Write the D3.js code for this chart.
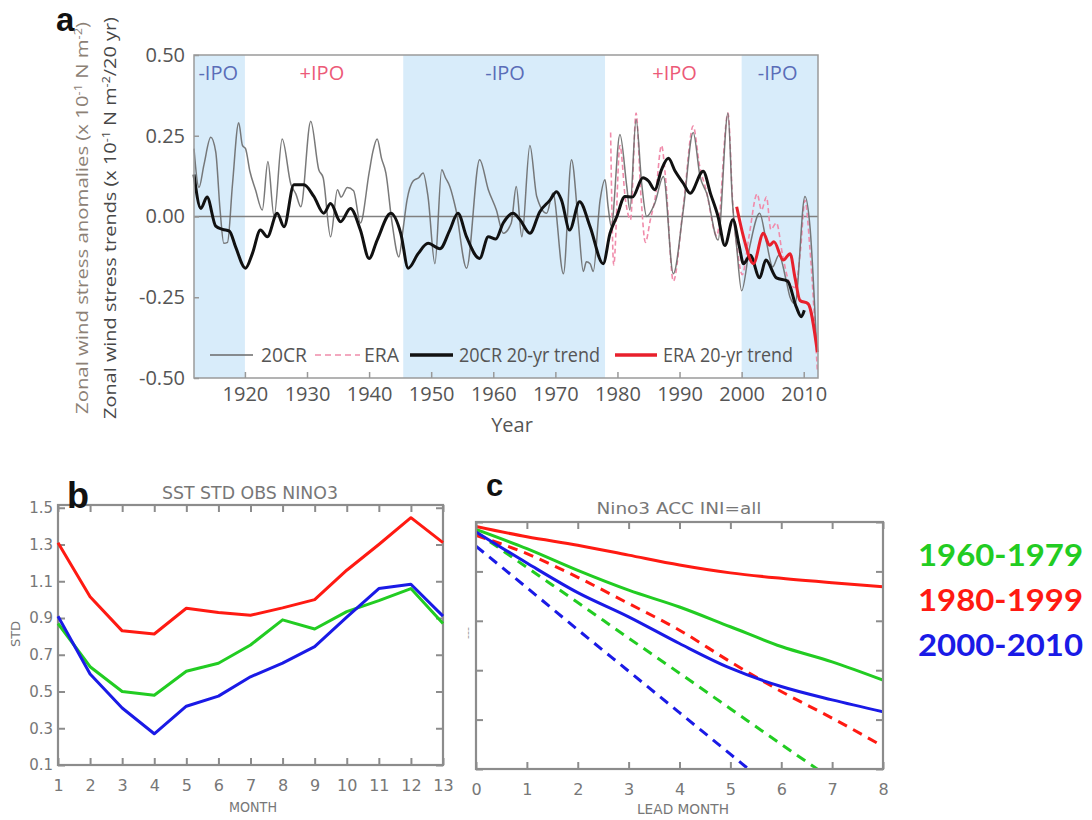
<!DOCTYPE html>
<html>
<head>
  <title>Zonal wind stress and Nino3 SST</title>
  <script src="https://d3js.org/d3.v7.min.js"></script>
  <style>
    body { margin: 0; background: #fff; }
  </style>
</head>
<body>
  <script>
    // ---- panel a data : [year, value] ----
    var cr20 = [[1911.8,0.21],[1912.6,0.09],[1913.4,0.16],[1914.5,0.245],[1915.3,0.20],[1916.0,0.02],[1916.6,-0.083],[1917.2,-0.08],[1918.0,0.10],[1919.0,0.29],[1919.6,0.22],[1920.1,0.21],[1920.8,0.14],[1921.7,0.083],[1922.8,0.02],[1923.7,0.17],[1924.7,0.0],[1926.0,0.24],[1927.4,0.10],[1928.2,0.07],[1929.0,0.03],[1930.6,0.295],[1931.9,0.145],[1932.6,0.12],[1933.8,-0.063],[1934.9,0.083],[1935.5,0.06],[1936.5,0.09],[1937.5,0.08],[1938.6,-0.02],[1940.0,0.135],[1940.6,0.2],[1941.3,0.24],[1942.0,0.18],[1942.7,0.135],[1943.7,-0.02],[1944.8,-0.125],[1945.4,-0.05],[1946.1,0.05],[1947.1,0.11],[1948.0,0.12],[1948.7,0.135],[1949.5,0.06],[1950.6,-0.146],[1951.7,0.145],[1952.3,0.12],[1953.0,0.093],[1954.0,0.02],[1955.7,-0.16],[1957.8,0.176],[1959.2,0.083],[1960.5,0.02],[1961.6,-0.052],[1962.9,-0.02],[1963.7,0.093],[1964.6,-0.063],[1965.9,0.22],[1967.0,0.062],[1968.6,0.01],[1969.6,0.073],[1971.3,-0.177],[1972.6,0.176],[1973.7,-0.02],[1974.5,-0.17],[1975.0,-0.14],[1975.6,-0.146],[1976.1,-0.17],[1977.2,0.05],[1978.0,0.114],[1978.5,0.03],[1979.0,-0.03],[1980.4,0.254],[1981.5,0.093],[1982.0,0.02],[1983.0,0.30],[1983.9,0.103],[1984.7,0.0],[1986.0,0.04],[1987.4,0.124],[1989.0,-0.177],[1990.6,0.02],[1992.2,0.26],[1993.3,0.124],[1994.4,0.07],[1996.2,-0.073],[1997.8,0.32],[1998.5,0.05],[1999.2,-0.094],[2000.0,-0.23],[2001.3,-0.094],[2002.9,0.01],[2004.0,-0.08],[2005.0,-0.156],[2006.0,-0.12],[2007.2,-0.2],[2007.8,-0.25],[2008.6,-0.27],[2010.2,0.062],[2011.0,-0.03],[2012.1,-0.416]];
    var era = [[1978.9,0.26],[1979.4,-0.15],[1980.4,0.22],[1981.3,0.05],[1982.1,-0.01],[1983.0,0.32],[1983.8,0.06],[1984.5,-0.08],[1985.3,-0.01],[1986.1,0.06],[1987.1,0.22],[1987.7,0.13],[1989.0,-0.20],[1990.6,0.03],[1992.2,0.28],[1993.2,0.16],[1994.3,0.08],[1996.0,-0.06],[1997.8,0.32],[1998.6,0.03],[1999.3,-0.10],[2000.1,-0.18],[2001.2,-0.06],[2002.5,0.07],[2003.2,0.02],[2004.0,0.06],[2004.7,-0.04],[2005.6,-0.02],[2006.6,-0.12],[2007.6,-0.20],[2008.6,-0.22],[2009.5,-0.10],[2010.2,0.05],[2011.0,-0.10],[2012.2,-0.48]];
    var trend20cr = [[1911.8,0.13],[1912.9,0.025],[1913.9,0.06],[1915.3,-0.03],[1916.4,-0.04],[1917.5,-0.045],[1918.5,-0.094],[1920.1,-0.16],[1921.2,-0.115],[1922.5,-0.042],[1923.6,-0.063],[1925.2,0.01],[1926.3,-0.032],[1927.9,0.098],[1929.5,0.098],[1931.1,0.062],[1932.7,0.01],[1933.8,0.04],[1935.4,-0.016],[1937.0,0.025],[1938.6,-0.042],[1940.0,-0.13],[1941.3,-0.073],[1943.5,0.01],[1945.1,-0.052],[1946.3,-0.16],[1947.9,-0.115],[1949.5,-0.083],[1951.4,-0.1],[1953.0,-0.042],[1954.3,0.01],[1955.7,-0.063],[1957.8,-0.13],[1959.2,-0.063],[1960.4,-0.07],[1961.6,-0.02],[1963.2,0.01],[1964.3,-0.01],[1965.9,-0.052],[1967.5,0.015],[1969.1,0.05],[1970.2,0.077],[1971.0,0.05],[1972.3,-0.042],[1973.9,0.046],[1975.6,-0.032],[1977.7,-0.146],[1978.8,-0.052],[1979.9,0.0],[1981.2,0.062],[1982.4,0.06],[1984.1,0.12],[1985.0,0.11],[1986.0,0.083],[1987.1,0.145],[1988.2,0.18],[1989.3,0.14],[1990.6,0.103],[1991.7,0.072],[1993.8,0.14],[1995.0,0.07],[1996.2,0.0],[1997.3,-0.09],[1998.6,-0.01],[1999.6,-0.09],[2000.3,-0.146],[2001.4,-0.12],[2002.9,-0.19],[2003.9,-0.135],[2005.6,-0.19],[2007.4,-0.2],[2008.8,-0.28],[2009.6,-0.31],[2010.1,-0.29]];
    var trendEra = [[1999.2,0.03],[2000.3,-0.063],[2001.9,-0.146],[2003.5,-0.052],[2004.5,-0.089],[2005.2,-0.078],[2006.7,-0.135],[2007.8,-0.115],[2008.6,-0.19],[2009.4,-0.26],[2010.7,-0.27],[2012.2,-0.42]];

    // IPO phases
    var negIPO = [[1911.8,1920],[1945.5,1978],[2000,2012.3]];
    var ipoLabels = [[1915.7,'-IPO'],[1932.4,'+IPO'],[1961.9,'-IPO'],[1989.2,'+IPO'],[2005.8,'-IPO']];
    var yearTicks = [1920,1930,1940,1950,1960,1970,1980,1990,2000,2010];
    var stressTicks = [-0.5,-0.25,0,0.25,0.5];

    // ---- panel b data : month 1..13 ----
    var months = [1,2,3,4,5,6,7,8,9,10,11,12,13];
    var std6079 = [0.87,0.635,0.50,0.48,0.61,0.654,0.753,0.89,0.84,0.935,0.995,1.06,0.87];
    var std8099 = [1.31,1.016,0.83,0.813,0.953,0.93,0.915,0.955,1.0,1.16,1.30,1.446,1.31];
    var std0010 = [0.91,0.595,0.41,0.27,0.42,0.475,0.58,0.654,0.744,0.905,1.06,1.084,0.91];
    var stdTicks = [0.1,0.3,0.5,0.7,0.9,1.1,1.3,1.5];

    // ---- panel c data : lead month 0..8 ----
    var leads = [0,1,2,3,4,5,6,7,8];
    var acc6079 = [0.985,0.946,0.902,0.862,0.828,0.788,0.748,0.717,0.68];
    var acc8099 = [0.991,0.970,0.953,0.933,0.913,0.897,0.886,0.877,0.869];
    var acc0010 = [0.98,0.917,0.857,0.808,0.754,0.704,0.667,0.64,0.616];
    var pers6079 = [0.98,0.908,0.837,0.765,0.694,0.622,0.55,0.479,0.407];
    var pers8099 = [0.973,0.936,0.888,0.835,0.781,0.717,0.657,0.603,0.546];
    var pers0010 = [0.951,0.867,0.782,0.698,0.614,0.53,0.445,0.36,0.277];
    var accTicks = [0.5,0.6,0.7,0.8,0.9,1.0];

    var periods = ['1960-1979','1980-1999','2000-2010'];
    var periodColors = ['#22cc22','#ff1a12','#1a1ae6'];

    var width = 1092, height = 820;
    var svg = d3.select('body').append('svg')
        .attr('width', width).attr('height', height)
        .style('font-family', '"Open Sans", sans-serif');

    // ================= panel a =================
    var xA = d3.scaleLinear().domain([1911.8, 2012.3]).range([194, 818]);
    var yA = d3.scaleLinear().domain([-0.5, 0.5]).range([378, 55]);
    var a = svg.append('g');

    a.selectAll('rect.ipo').data(negIPO).enter().append('rect')
        .attr('x', d => xA(d[0])).attr('width', d => xA(d[1]) - xA(d[0]))
        .attr('y', yA(0.5)).attr('height', yA(-0.5) - yA(0.5))
        .attr('fill', '#d8ecfa');

    a.selectAll('text.ipo').data(ipoLabels).enter().append('text')
        .attr('x', d => xA(d[0])).attr('y', 80)
        .attr('text-anchor', 'middle').attr('font-size', 20)
        .attr('fill', d => d[1][0] == '-' ? '#5a6db8' : '#ec5a78')
        .text(d => d[1]);

    a.append('line').attr('x1', xA.range()[0]).attr('x2', xA.range()[1])
        .attr('y1', yA(0)).attr('y2', yA(0))
        .attr('stroke', '#808080').attr('stroke-width', 1.5);

    var lineA = d3.line().x(d => xA(d[0])).y(d => yA(d[1])).curve(d3.curveMonotoneX);

    a.append('path').datum(era).attr('d', lineA).attr('fill', 'none')
        .attr('stroke', '#f08cab').attr('stroke-width', 1.6).attr('stroke-dasharray', '5,3');
    a.append('path').datum(cr20).attr('d', lineA).attr('fill', 'none')
        .attr('stroke', '#6a6a6a').attr('stroke-width', 1.5).attr('opacity', 0.9);
    a.append('path').datum(trend20cr).attr('d', lineA).attr('fill', 'none')
        .attr('stroke', '#111').attr('stroke-width', 3);
    a.append('path').datum(trendEra).attr('d', lineA).attr('fill', 'none')
        .attr('stroke', '#e8202c').attr('stroke-width', 3);

    // box
    a.append('rect').attr('x', 194).attr('y', 55).attr('width', 624).attr('height', 323)
        .attr('fill', 'none').attr('stroke', '#9a9a9a').attr('stroke-width', 1.5);

    var axA = a.append('g').attr('transform', 'translate(0,378)')
        .call(d3.axisBottom(xA).tickValues(yearTicks).tickSize(-6).tickPadding(9).tickFormat(d3.format('d')));
    axA.select('.domain').remove();
    axA.selectAll('line').attr('stroke', '#999').attr('stroke-width', 1.5);
    axA.selectAll('text').attr('font-size', 20).attr('fill', '#555').attr('font-family', '"Open Sans", sans-serif');

    var ayA = a.append('g').attr('transform', 'translate(194,0)')
        .call(d3.axisLeft(yA).tickValues(stressTicks).tickSize(-5).tickPadding(9).tickFormat(d => d.toFixed(2)));
    ayA.select('.domain').remove();
    ayA.selectAll('line').attr('stroke', '#999').attr('stroke-width', 1.5);
    ayA.selectAll('text').attr('font-size', 20).attr('fill', '#555').attr('font-family', '"Open Sans", sans-serif');

    a.append('text').attr('x', 512).attr('y', 432).attr('text-anchor', 'middle')
        .attr('font-size', 20).attr('fill', '#555').text('Year');

    // axis titles (rotated)
    function unitTitle(x, color, parts, len) {
      var t = a.append('text').attr('transform', 'translate(' + x + ',218) rotate(-90)')
          .attr('text-anchor', 'middle').attr('font-size', 16).attr('fill', color)
          .attr('textLength', len).attr('lengthAdjust', 'spacingAndGlyphs');
      parts.forEach(function (p) {
        var s = t.append('tspan').text(p[0]);
        if (p[1] == 'sup') s.attr('font-size', 10).attr('dy', -6);
        if (p[1] == 'down') s.attr('dy', 6);
      });
    }
    unitTitle(88, '#8c8176', [['Zonal wind stress anomalies (x 10'], ['-1', 'sup'], [' N m', 'down'], ['-2', 'sup'], [')', 'down']], 392);
    unitTitle(116, '#474747', [['Zonal wind stress trends (x 10'], ['-1', 'sup'], [' N m', 'down'], ['-2', 'sup'], ['/20 yr)', 'down']], 402);

    // legend
    var legA = [
      {x1: 210, x2: 253, tx: 261, tw: 46, label: '20CR', color: '#6a6a6a', w: 1.5, dash: null},
      {x1: 315, x2: 360, tx: 364, tw: 35, label: 'ERA', color: '#f08cab', w: 1.6, dash: '6,4'},
      {x1: 410, x2: 453, tx: 459, tw: 141, label: '20CR 20-yr trend', color: '#111', w: 3.5, dash: null},
      {x1: 615, x2: 657, tx: 663, tw: 130, label: 'ERA 20-yr trend', color: '#e8202c', w: 3.5, dash: null}
    ];
    legA.forEach(function (l) {
      a.append('line').attr('x1', l.x1).attr('x2', l.x2).attr('y1', 355).attr('y2', 355)
          .attr('stroke', l.color).attr('stroke-width', l.w).attr('stroke-dasharray', l.dash);
      a.append('text').attr('x', l.tx).attr('y', 362).attr('font-size', 20).attr('fill', '#555')
          .attr('textLength', l.tw).attr('lengthAdjust', 'spacingAndGlyphs').text(l.label);
    });

    // ================= panels b and c helpers =================
    var grads = '"DejaVu Sans", sans-serif';
    function frame(g, x, y, left, right, top, bottom, xt, yt, showY) {
      g.append('rect').attr('x', left).attr('y', top).attr('width', right - left).attr('height', bottom - top)
          .attr('fill', 'none').attr('stroke', '#8c8c8c').attr('stroke-width', 2.2);
      var axes = [
        [d3.axisBottom(x).tickValues(xt).tickPadding(15), 'translate(0,' + bottom + ')', true, 16],
        [d3.axisTop(x).tickValues(xt), 'translate(0,' + top + ')', false],
        [d3.axisLeft(y).tickValues(yt).tickFormat(d => d.toFixed(1)).tickPadding(5), 'translate(' + left + ',0)', showY, 15],
        [d3.axisRight(y).tickValues(yt), 'translate(' + right + ',0)', false]
      ];
      axes.forEach(function (ax) {
        var gg = g.append('g').attr('transform', ax[1]).call(ax[0].tickSize(-7));
        gg.select('.domain').remove();
        gg.selectAll('line').attr('stroke', '#8c8c8c').attr('stroke-width', 2);
        if (!ax[2]) gg.selectAll('text').remove();
        else gg.selectAll('text').attr('font-size', ax[3]).attr('fill', '#777').attr('font-family', grads);
      });
    }

    // ================= panel b =================
    var xB = d3.scaleLinear().domain([1, 13]).range([58, 443]);
    var yB = d3.scaleLinear().domain([0.1, 1.515]).range([765, 505]);
    var b = svg.append('g');
    frame(b, xB, yB, 58, 443, 505, 765, months, stdTicks, true);
    var lineB = d3.line().x((d, i) => xB(months[i])).y(d => yB(d));
    [std6079, std8099, std0010].forEach(function (s, i) {
      b.append('path').datum(s).attr('d', lineB).attr('fill', 'none')
          .attr('stroke', periodColors[i]).attr('stroke-width', 3).attr('stroke-linejoin', 'round');
    });
    b.append('text').attr('x', 250).attr('y', 499).attr('text-anchor', 'middle').attr('font-family', grads)
        .attr('font-size', 17).attr('fill', '#777').attr('textLength', 176).attr('lengthAdjust', 'spacingAndGlyphs')
        .text('SST  STD  OBS  NINO3');
    b.append('text').attr('x', 253).attr('y', 812).attr('text-anchor', 'middle').attr('font-family', grads)
        .attr('font-size', 14).attr('fill', '#777').attr('textLength', 48).attr('lengthAdjust', 'spacingAndGlyphs')
        .text('MONTH');
    b.append('text').attr('transform', 'translate(20,634) rotate(-90)').attr('text-anchor', 'middle')
        .attr('font-family', grads).attr('font-size', 13).attr('fill', '#777').text('STD');

    // ================= panel c =================
    var xC = d3.scaleLinear().domain([0, 8]).range([476, 883]);
    var yC = d3.scaleLinear().domain([0.5, 1.0]).range([769, 522]);
    var c = svg.append('g');
    c.append('clipPath').attr('id', 'clipC').append('rect')
        .attr('x', 476).attr('y', 522).attr('width', 407).attr('height', 247);
    var lineC = d3.line().x((d, i) => xC(leads[i])).y(d => yC(d)).curve(d3.curveMonotoneX);
    var lc = c.append('g').attr('clip-path', 'url(#clipC)');
    [pers6079, pers8099, pers0010].forEach(function (s, i) {
      lc.append('path').datum(s).attr('d', lineC).attr('fill', 'none')
          .attr('stroke', periodColors[i]).attr('stroke-width', 3).attr('stroke-dasharray', '10,7');
    });
    [acc6079, acc8099, acc0010].forEach(function (s, i) {
      lc.append('path').datum(s).attr('d', lineC).attr('fill', 'none')
          .attr('stroke', periodColors[i]).attr('stroke-width', 3);
    });
    frame(c, xC, yC, 476, 883, 522, 769, leads, accTicks, false);
    c.append('text').attr('x', 679).attr('y', 514).attr('text-anchor', 'middle').attr('font-family', grads)
        .attr('font-size', 16).attr('fill', '#777').attr('textLength', 165).attr('lengthAdjust', 'spacingAndGlyphs')
        .text('Nino3  ACC  INI=all');
    c.append('text').attr('x', 683).attr('y', 814).attr('text-anchor', 'middle').attr('font-family', grads)
        .attr('font-size', 14).attr('fill', '#777').attr('textLength', 92).attr('lengthAdjust', 'spacingAndGlyphs')
        .text('LEAD MONTH');
    c.append('text').attr('transform', 'translate(471,633) rotate(-90)').attr('text-anchor', 'middle')
        .attr('font-family', grads).attr('font-size', 11).attr('fill', '#999').text('---');

    // period legend
    svg.selectAll('text.period').data(periods).enter().append('text')
        .attr('x', 918).attr('y', (d, i) => 566 + i * 45)
        .attr('font-family', 'Lato, sans-serif').attr('font-weight', 700).attr('font-size', 31)
        .attr('fill', (d, i) => periodColors[i])
        .attr('textLength', 165).attr('lengthAdjust', 'spacingAndGlyphs')
        .text(d => d);

    // panel letters
    var letters = [['a', 56, 31, 33], ['b', 67, 508, 36], ['c', 486, 496, 31]];
    svg.selectAll('text.letter').data(letters).enter().append('text')
        .attr('x', d => d[1]).attr('y', d => d[2])
        .attr('font-family', '"Liberation Sans", Arial, sans-serif').attr('font-weight', 700)
        .attr('font-size', d => d[3]).attr('fill', '#111').text(d => d[0]);
  </script>
</body>
</html>
